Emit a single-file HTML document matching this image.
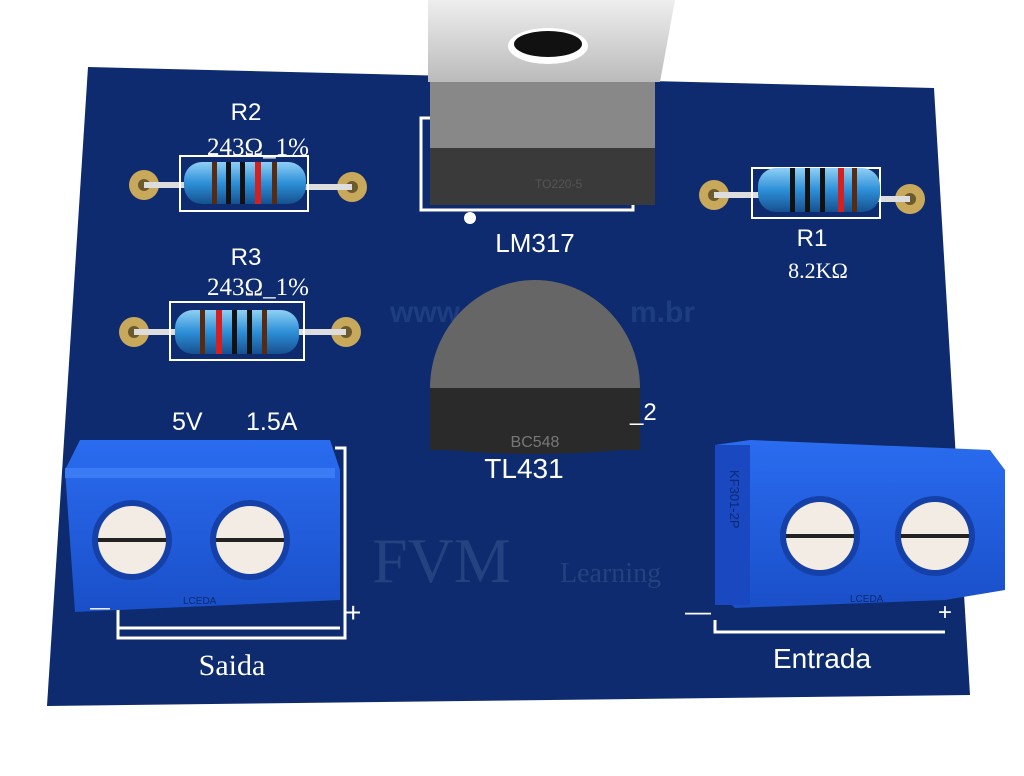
<!DOCTYPE html>
<html><head><meta charset="utf-8"><style>
body{margin:0;background:#fff;}
svg{display:block}
text{font-family:"Liberation Sans",sans-serif;fill:#fff}
.serif{font-family:"Liberation Serif",serif}
</style></head><body>
<svg width="1024" height="776" viewBox="0 0 1024 776">
<defs>
<linearGradient id="res" x1="0" y1="0" x2="0" y2="1"><stop offset="0" stop-color="#8fd0f5"/><stop offset="0.5" stop-color="#2d8fd8"/><stop offset="1" stop-color="#16508f"/></linearGradient>
<linearGradient id="tab" x1="0" y1="0" x2="0" y2="1"><stop offset="0" stop-color="#eee"/><stop offset="1" stop-color="#bbb"/></linearGradient>
<linearGradient id="blk" x1="0" y1="0" x2="0" y2="1"><stop offset="0" stop-color="#2a6cf0"/><stop offset="1" stop-color="#1a4fc8"/></linearGradient>
</defs>
<polygon points="88,67 934,88 970,695 47,706" fill="#0d2b6e"/>
<text x="390" y="322" font-size="30" font-weight="bold" style="fill:#1e3c80">www</text>
<text x="630" y="322" font-size="30" font-weight="bold" style="fill:#1e3c80">m.br</text>
<text x="372" y="582" font-size="64" class="serif" style="fill:#24427f">FVM</text>
<text x="560" y="582" font-size="28" class="serif" style="fill:#24427f">Learning</text>

<g>
<circle cx="144" cy="185" r="15" fill="#c8a85a"/><circle cx="144" cy="185" r="6" fill="#6b5a2e"/>
<circle cx="352" cy="187" r="15" fill="#c8a85a"/><circle cx="352" cy="187" r="6" fill="#6b5a2e"/>
<path d="M144 185 H190 M300 187 H352" stroke="#ddd" stroke-width="6"/>
<rect x="180" y="156" width="128" height="55" fill="none" stroke="#fff" stroke-width="2"/>
<rect x="184" y="162" width="122" height="42" rx="18" fill="url(#res)"/>
<rect x="212" y="162" width="5" height="42" fill="#5a2a10"/><rect x="226" y="162" width="5" height="42" fill="#111"/><rect x="240" y="162" width="5" height="42" fill="#111"/><rect x="255" y="162" width="6" height="42" fill="#d42020"/><rect x="272" y="162" width="5" height="42" fill="#5a2a10"/>
</g>
<text x="246" y="120" font-size="24" text-anchor="middle">R2</text>
<text x="258" y="155" font-size="25" text-anchor="middle" class="serif">243Ω_1%</text>
<g>
<circle cx="134" cy="332" r="15" fill="#c8a85a"/><circle cx="134" cy="332" r="6" fill="#6b5a2e"/>
<circle cx="346" cy="332" r="15" fill="#c8a85a"/><circle cx="346" cy="332" r="6" fill="#6b5a2e"/>
<path d="M134 332 H180 M295 332 H346" stroke="#ddd" stroke-width="6"/>
<rect x="170" y="302" width="134" height="58" fill="none" stroke="#fff" stroke-width="2"/>
<rect x="175" y="310" width="124" height="44" rx="18" fill="url(#res)"/>
<rect x="200" y="310" width="5" height="44" fill="#5a2a10"/><rect x="216" y="310" width="6" height="44" fill="#d42020"/><rect x="232" y="310" width="5" height="44" fill="#111"/><rect x="247" y="310" width="5" height="44" fill="#111"/><rect x="262" y="310" width="5" height="44" fill="#5a2a10"/>
</g>
<text x="246" y="265" font-size="24" text-anchor="middle">R3</text>
<text x="258" y="295" font-size="25" text-anchor="middle" class="serif">243Ω_1%</text>
<g>
<circle cx="714" cy="195" r="15" fill="#c8a85a"/><circle cx="714" cy="195" r="6" fill="#6b5a2e"/>
<circle cx="910" cy="199" r="15" fill="#c8a85a"/><circle cx="910" cy="199" r="6" fill="#6b5a2e"/>
<path d="M714 195 H760 M870 199 H910" stroke="#ddd" stroke-width="6"/>
<rect x="752" y="168" width="128" height="50" fill="none" stroke="#fff" stroke-width="2"/>
<rect x="758" y="168" width="122" height="44" rx="18" fill="url(#res)"/>
<rect x="790" y="168" width="5" height="44" fill="#111"/><rect x="805" y="168" width="5" height="44" fill="#111"/><rect x="820" y="168" width="5" height="44" fill="#111"/><rect x="838" y="168" width="6" height="44" fill="#d42020"/><rect x="852" y="168" width="5" height="44" fill="#5a2a10"/>
</g>
<text x="812" y="246" font-size="24" text-anchor="middle">R1</text>
<text x="818" y="278" font-size="22" text-anchor="middle" class="serif">8.2KΩ</text>

<rect x="421" y="118" width="212" height="92" fill="none" stroke="#fff" stroke-width="3"/>
<polygon points="428,0 675,0 660,82 428,82" fill="url(#tab)"/>
<ellipse cx="548" cy="46" rx="40" ry="18" fill="#fff"/><ellipse cx="548" cy="44" rx="34" ry="13" fill="#111"/>
<rect x="430" y="82" width="225" height="66" fill="#888"/>
<rect x="430" y="148" width="225" height="57" fill="#3a3a3a"/>
<text x="535" y="188" font-size="12" style="fill:#555">TO220-5</text>
<circle cx="470" cy="218" r="6" fill="#fff"/>
<text x="535" y="252" font-size="26" text-anchor="middle">LM317</text>

<path d="M430 388 A105 108 0 0 1 640 388 Z" fill="#666"/>
<rect x="430" y="388" width="210" height="62" fill="#2a2a2a"/>
<path d="M430 448 Q535 460 640 448 V450 H430Z" fill="#2a2a2a"/>
<text x="535" y="447" font-size="16" text-anchor="middle" style="fill:#777">BC548</text>
<text x="630" y="420" font-size="24">_2</text>
<text x="524" y="478" font-size="28" text-anchor="middle">TL431</text>

<text x="172" y="430" font-size="25">5V</text><text x="246" y="430" font-size="25">1.5A</text>
<path d="M335 448 H345 V638 H118 V610" fill="none" stroke="#fff" stroke-width="3"/>
<path d="M118 610 V628 H340" fill="none" stroke="#fff" stroke-width="3"/>
<polygon points="80,440 330,440 340,470 340,600 75,612 65,470" fill="url(#blk)"/>
<rect x="65" y="468" width="270" height="10" fill="#3b7cf5"/>
<circle cx="132" cy="540" r="40" fill="#1540a8"/><circle cx="132" cy="540" r="34" fill="#f3ece4"/><rect x="98" y="538" width="68" height="4" fill="#222"/>
<circle cx="250" cy="540" r="40" fill="#1540a8"/><circle cx="250" cy="540" r="34" fill="#f3ece4"/><rect x="216" y="538" width="68" height="4" fill="#222"/>
<text x="90" y="614" font-size="20">—</text><text x="345" y="622" font-size="28">+</text>
<text x="183" y="604" font-size="10" style="fill:#0a2a70">LCEDA</text>
<text x="232" y="675" font-size="30" text-anchor="middle" class="serif">Saida</text>

<path d="M715 620 V632 H945" fill="none" stroke="#fff" stroke-width="3"/>
<polygon points="715,445 750,440 990,450 1005,470 1005,590 945,600 735,608 715,590" fill="url(#blk)"/>
<rect x="715" y="445" width="35" height="160" fill="#1a48c0"/>
<text x="730" y="470" font-size="13" transform="rotate(90 730 470)" style="fill:#0a2a70">KF301-2P</text>
<circle cx="820" cy="536" r="40" fill="#1540a8"/><circle cx="820" cy="536" r="34" fill="#f3ece4"/><rect x="786" y="534" width="68" height="4" fill="#222"/>
<circle cx="935" cy="536" r="40" fill="#1540a8"/><circle cx="935" cy="536" r="34" fill="#f3ece4"/><rect x="901" y="534" width="68" height="4" fill="#222"/>
<text x="685" y="620" font-size="26">—</text><text x="938" y="620" font-size="24">+</text>
<text x="850" y="602" font-size="10" style="fill:#0a2a70">LCEDA</text>
<text x="822" y="668" font-size="28" text-anchor="middle">Entrada</text>
</svg>
</body></html>
